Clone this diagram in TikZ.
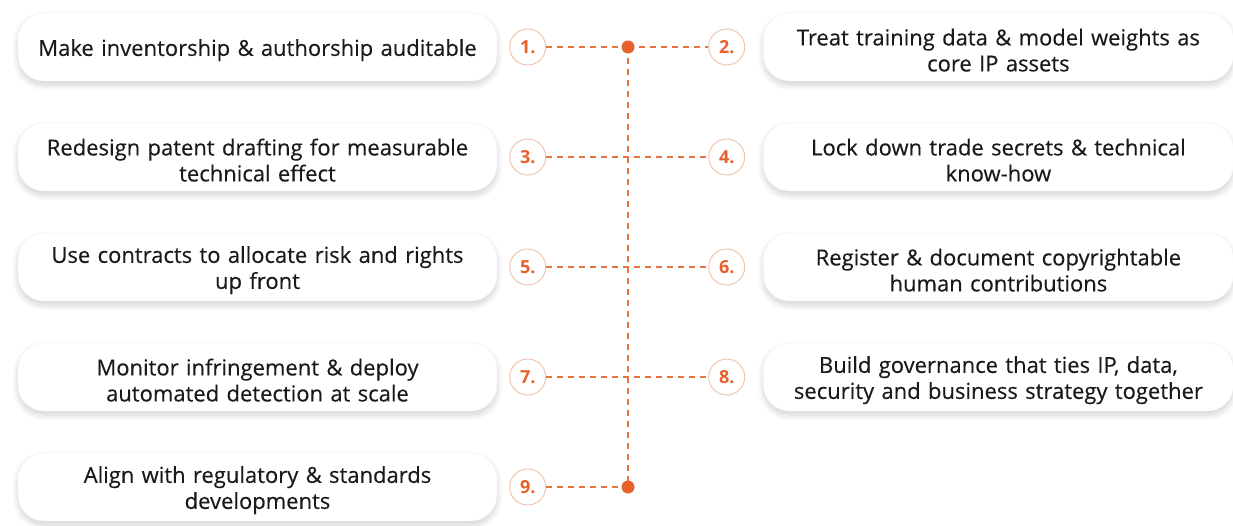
\documentclass[tikz,border=0pt]{standalone}
\usepackage{fontspec}
\setmainfont{Open Sans}
\usetikzlibrary{positioning, shadows.blur}
\definecolor{accent}{HTML}{E8602A}
\definecolor{ringline}{HTML}{F0C6B0}
\definecolor{dashline}{HTML}{E47440}
\definecolor{cardtext}{HTML}{1A1A1A}

\begin{document}
\begin{tikzpicture}[x=1pt, y=-1pt,
        card/.style={draw=black!5, fill=white, rounded corners=26pt,
                minimum height=68pt, align=center, text=cardtext,
                font=\fontsize{22}{26}\selectfont\addfontfeature{FakeBold=0.3},
                execute at begin node={\rule{0pt}{23pt}},
                blur shadow={shadow xshift=0pt, shadow yshift=-4pt,
                        shadow blur radius=6pt, shadow blur steps=10, shadow opacity=18}},
        leftcard/.style={card, minimum width=479pt, text width=470pt},
        rightcard/.style={card, minimum width=470pt, text width=462pt},
        badge/.style={circle, draw=ringline, fill=white, line width=1pt,
                minimum size=36pt, inner sep=0pt, text=accent,
                font=\fontsize{18}{18}\selectfont\bfseries},
        link/.style={dashline, dash pattern=on 6pt off 5pt, line width=1.8pt}
    ]
    \useasboundingbox (0,0) rectangle (1233,525);

    % Left column
    \node[leftcard] (b1) at (257.5,47) {Make inventorship \& authorship auditable};
    \node[leftcard] (b3) at (257.5,157) {Redesign patent drafting for measurable\\technical effect};
    \node[leftcard] (b5) at (257.5,267) {Use contracts to allocate risk and rights\\up front};
    \node[leftcard] (b7) at (257.5,377) {Monitor infringement \& deploy\\automated detection at scale};
    \node[leftcard] (b9) at (257.5,487) {Align with regulatory \& standards\\developments};

    % Number badges
    \node[badge, right=12pt of b1] (n1) {1.};
    \node[badge, right=12pt of b3] (n3) {3.};
    \node[badge, right=12pt of b5] (n5) {5.};
    \node[badge, right=12pt of b7] (n7) {7.};
    \node[badge, right=12pt of b9] (n9) {9.};
    \node[badge, right=162pt of n1] (n2) {2.};
    \node[badge, right=162pt of n3] (n4) {4.};
    \node[badge, right=162pt of n5] (n6) {6.};
    \node[badge, right=162pt of n7] (n8) {8.};

    % Right column
    \node[rightcard, right=18pt of n2] (b2) {Treat training data \& model weights as\\core IP assets};
    \node[rightcard, right=18pt of n4] (b4) {Lock down trade secrets \& technical\\know-how};
    \node[rightcard, right=18pt of n6] (b6) {Register \& document copyrightable\\human contributions};
    \node[rightcard, right=18pt of n8] (b8) {Build governance that ties IP, data,\\security and business strategy together};

    % Spine
    \coordinate (top) at (628,47);
    \coordinate (bottom) at (628,487);
    \draw[link] (top) -- (bottom);
    \draw[link] (n1) -- (top);
    \draw[link] (top) -- (n2);
    \draw[link] (n3) -- (n4);
    \draw[link] (n5) -- (n6);
    \draw[link] (n7) -- (n8);
    \draw[link] (n9) -- (bottom);
    \fill[accent] (top) circle (6.5pt);
    \fill[accent] (bottom) circle (6.5pt);
\end{tikzpicture}
\end{document}
